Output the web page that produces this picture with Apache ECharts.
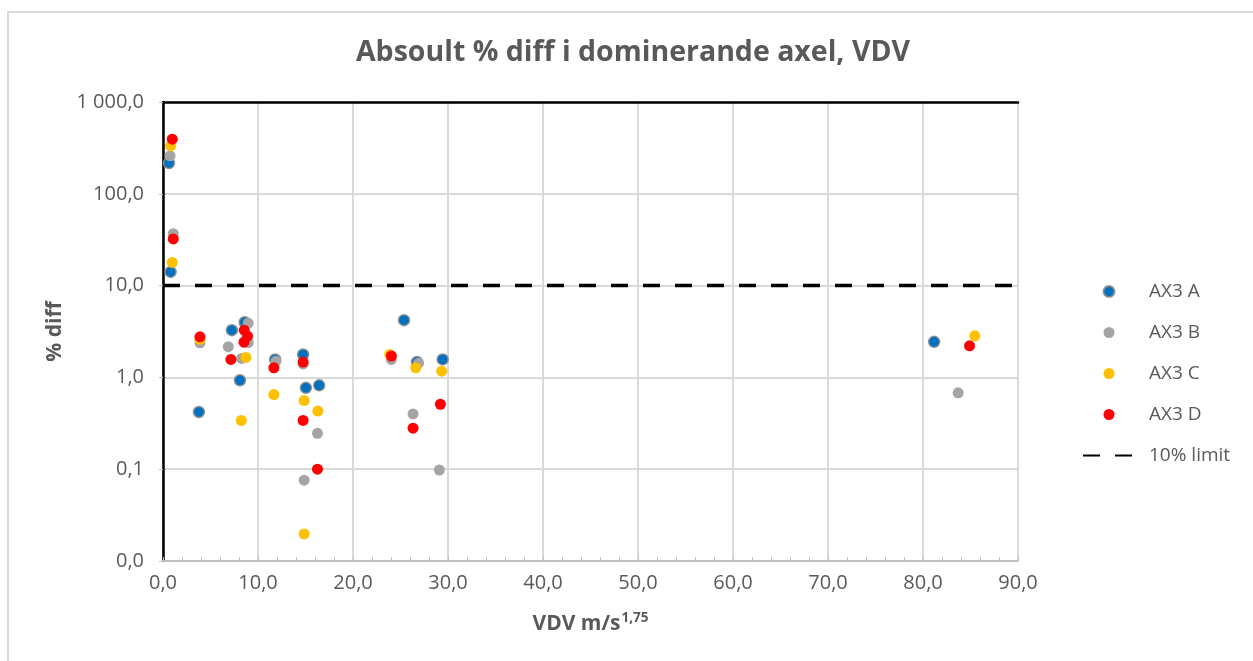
<!DOCTYPE html>
<html>
<head>
<meta charset="utf-8">
<script src="https://cdn.jsdelivr.net/npm/echarts@6/dist/echarts.min.js"></script>
<style>
  html, body { margin: 0; padding: 0; background: #fff; }
  #chart-container { width: 1253px; height: 661px; }
</style>
</head>
<body>
<div id="chart-container"></div>
<script>
// points: [VDV, % diff]
const seriesNames = ['AX3 A', 'AX3 B', 'AX3 C', 'AX3 D'];
const ax3A = [[0.63, 216], [0.8, 14.1], [3.78, 0.42], [7.25, 3.27], [8.6, 3.99], [8.1, 0.93],
  [11.8, 1.57], [14.75, 1.78], [15.04, 0.77], [16.44, 0.82], [25.37, 4.2], [26.74, 1.47],
  [29.44, 1.57], [81.17, 2.44]];
const ax3B = [[0.74, 259], [1.08, 36.7], [3.89, 2.38], [6.87, 2.16], [8.97, 3.9], [8.97, 2.4],
  [8.27, 1.61], [11.9, 1.5], [14.75, 1.4], [16.26, 0.246], [14.86, 0.076], [24.04, 1.57],
  [26.9, 1.43], [26.32, 0.4], [29.09, 0.098], [83.7, 0.68]];
const ax3C = [[0.8, 332], [0.98, 17.9], [3.89, 2.6], [8.73, 1.65], [8.24, 0.34], [11.67, 0.65],
  [14.86, 0.56], [16.3, 0.43], [14.86, 0.0197], [23.87, 1.78], [26.6, 1.27], [29.33, 1.17],
  [85.45, 2.84]];
const ax3D = [[0.98, 393], [1.08, 32.2], [3.89, 2.77], [7.15, 1.57], [8.55, 3.27], [8.9, 2.81],
  [8.52, 2.42], [11.67, 1.27], [14.75, 1.47], [14.75, 0.34], [16.26, 0.1], [24.04, 1.71],
  [26.32, 0.28], [29.2, 0.51], [84.9, 2.21]];
const limitName = '10% limit';
const limitLine = [[0, 10], [90, 10]];

const textColor = '#595959';
const font = '"Open Sans", "Noto Sans", sans-serif';

function fmt(v, digits) {
  let s = v.toFixed(digits).replace('.', ',');
  let [int, dec] = s.split(',');
  int = int.replace(/\B(?=(\d{3})+(?!\d))/g, ' ');
  return dec ? int + ',' + dec : int;
}

function buildScatter(name, color, data, border) {
  return {
    name,
    type: 'scatter',
    symbol: 'circle',
    symbolSize: 11,
    itemStyle: {
      color,
      opacity: 1,
      borderColor: border || color,
      borderWidth: border ? 1.5 : 0
    },
    data
  };
}

let series = [
  buildScatter(seriesNames[0], '#0070C0', ax3A, 'rgba(140,140,140,0.9)'),
  buildScatter(seriesNames[1], '#A5A5A5', ax3B),
  buildScatter(seriesNames[2], '#FFC000', ax3C),
  buildScatter(seriesNames[3], '#FF0000', ax3D),
  {
    name: limitName,
    type: 'line',
    symbol: 'none',
    itemStyle: { color: 'rgba(0,0,0,0)' },
    lineStyle: { color: '#000', width: 3.5, type: [17, 15] },
    data: limitLine,
    z: 1
  }
];

let option = {
  animation: false,
  textStyle: { fontFamily: font },
  title: {
    text: 'Absoult % diff i dominerande axel, VDV',
    left: 628,
    textAlign: 'center',
    top: 33,
    textStyle: { fontFamily: font, fontSize: 28.5, fontWeight: 'bold', color: textColor }
  },
  graphic: [{
    type: 'rect',
    shape: { x: 8, y: 12, width: 1300, height: 700 },
    style: { fill: 'none', stroke: '#D9D9D9', lineWidth: 2 },
    silent: true
  }],
  legend: {
    orient: 'vertical',
    left: 1077,
    top: 277,
    itemWidth: 52,
    itemHeight: 11,
    itemGap: 22,
    data: seriesNames.concat([limitName]),
    textStyle: { fontFamily: font, fontSize: 19, color: textColor, padding: [0, 0, 0, 9] }
  },
  grid: { left: 163, right: 235, top: 102, bottom: 100 },
  xAxis: [{
    type: 'value',
    min: 0,
    max: 90,
    interval: 10,
    name: '{a|VDV m/s}{b|1,75}',
    nameLocation: 'middle',
    nameGap: 50,
    nameTextStyle: {
      rich: {
        a: { fontFamily: font, fontSize: 21, fontWeight: 'bold', color: textColor, lineHeight: 26 },
        b: { fontFamily: font, fontSize: 13.5, fontWeight: 'bold', color: textColor, verticalAlign: 'top', lineHeight: 26, padding: [0, 0, 9, 1] }
      }
    },
    axisLine: { lineStyle: { color: '#BFBFBF', width: 2 } },
    axisTick: { show: true, inside: true, length: 4, lineStyle: { color: '#BFBFBF' } },
    minorTick: { show: true, splitNumber: 5, length: 4, lineStyle: { color: '#BFBFBF' } },
    splitLine: { lineStyle: { color: '#D9D9D9', width: 2 } },
    axisLabel: { fontFamily: font, fontSize: 20, color: textColor, margin: 12, formatter: (v) => fmt(v, 1) }
  }, {
    type: 'value',
    position: 'top',
    min: 0,
    max: 90,
    axisLine: { show: true, lineStyle: { color: '#000', width: 2.5 } },
    axisTick: { show: false },
    axisLabel: { show: false },
    splitLine: { show: false }
  }],
  yAxis: [{
    type: 'log',
    logBase: 10,
    min: 0.01,
    max: 1000,
    name: '% diff',
    nameLocation: 'middle',
    nameGap: 96,
    nameTextStyle: { fontFamily: font, fontSize: 21, fontWeight: 'bold', color: textColor },
    axisLine: { show: true, lineStyle: { color: '#BFBFBF', width: 2 } },
    axisTick: { show: true, length: 4, lineStyle: { color: '#BFBFBF' } },
    splitLine: { lineStyle: { color: '#D9D9D9', width: 2 } },
    axisLabel: { fontFamily: font, fontSize: 20, color: textColor, margin: 19, formatter: (v) => fmt(v, 1) }
  }, {
    type: 'value',
    position: 'right',
    min: 0,
    max: 1,
    axisLine: { show: true, lineStyle: { color: '#000', width: 2.5 } },
    axisTick: { show: false },
    axisLabel: { show: false },
    splitLine: { show: false }
  }],
  series
};

var myChart = echarts.init(document.getElementById('chart-container'));
myChart.setOption(option);
window.addEventListener('resize', myChart.resize);
</script>
</body>
</html>
